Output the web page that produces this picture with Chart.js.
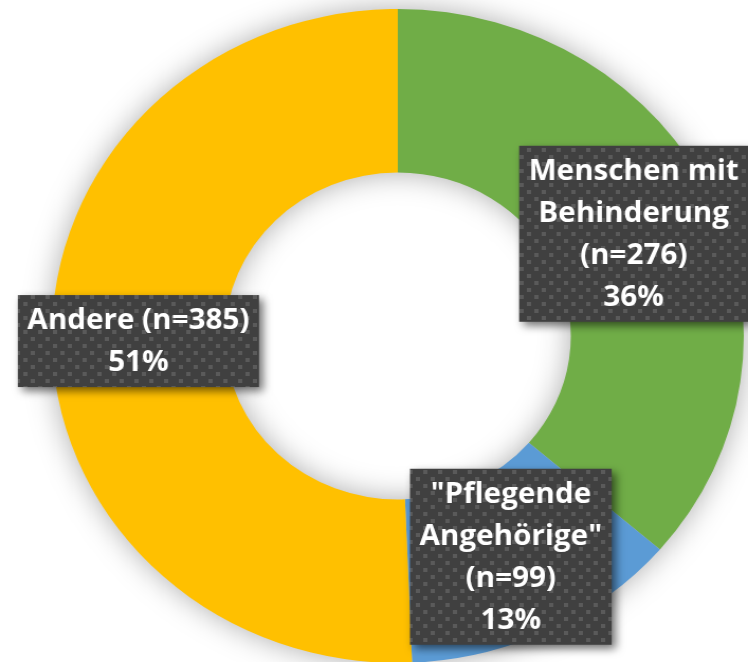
<!DOCTYPE html>
<html>
<head>
<meta charset="utf-8">
<script src="https://cdn.jsdelivr.net/npm/chart.js@4/dist/chart.umd.min.js"></script>
<style>
  html, body { margin: 0; padding: 0; background: #ffffff; overflow: hidden; }
  #wrap { width: 748px; height: 662px; overflow: hidden; position: relative; }
  #stretch { position: absolute; left: 0; top: 0; width: 707px; height: 662px; transform: scale(1.058, 1); transform-origin: 0 0; }
  canvas { display: block; }
</style>
</head>
<body>
<div id="wrap"><div id="stretch"><canvas id="c" width="707" height="662" style="width:707px;height:662px"></canvas></div></div>
<script>
// ---- data ----
const categories = ['Menschen mit Behinderung', '"Pflegende Angehörige"', 'Andere'];
const counts = [276, 99, 385];
const percentLabels = ['36%', '13%', '51%'];
const labelLines = [
  ['Menschen mit', 'Behinderung', '(n=276)', '36%'],
  ['"Pflegende', 'Angehörige"', '(n=99)', '13%'],
  ['Andere (n=385)', '51%']
];
const colors = ['#70AD47', '#5B9BD5', '#FFC000'];

// pattern for label boxes
function makePattern(ctx) {
  const p = document.createElement('canvas');
  p.width = 14; p.height = 14;
  const pc = p.getContext('2d');
  pc.fillStyle = '#404040';
  pc.fillRect(0, 0, 14, 14);
  pc.fillStyle = '#5a5a5a';
  pc.fillRect(1, 1, 4, 4);
  pc.fillRect(8, 8, 4, 4);
  return ctx.createPattern(p, 'repeat');
}

const ringShadow = {
  id: 'ringShadow',
  beforeDatasetsDraw(chart) {
    const meta = chart.getDatasetMeta(0);
    const a = meta.data[0];
    if (!a) return;
    const ctx = chart.ctx;
    ctx.save();
    ctx.shadowColor = 'rgba(0,0,0,0.35)';
    ctx.shadowBlur = 30;
    ctx.fillStyle = '#c8c8c8';
    ctx.beginPath();
    ctx.arc(a.x, a.y, a.outerRadius - 1, 0, Math.PI * 2, false);
    ctx.arc(a.x, a.y, a.innerRadius + 1, 0, Math.PI * 2, true);
    ctx.closePath();
    ctx.fill();
    ctx.restore();
  }
};

const boxLabels = {
  id: 'boxLabels',
  afterDatasetsDraw(chart) {
    const meta = chart.getDatasetMeta(0);
    const ctx = chart.ctx;
    const pattern = makePattern(ctx);
    const fontSize = 28;
    const lineH = 42;
    const padX = 9;
    ctx.save();
    ctx.font = 'bold ' + fontSize + 'px "Open Sans", sans-serif';
    meta.data.forEach((el, i) => {
      const pos = el.tooltipPosition();
      const lines = labelLines[i];
      let w = 0;
      lines.forEach(l => { w = Math.max(w, ctx.measureText(l).width); });
      const bw = w + padX * 2;
      const bh = lines.length * lineH + 8;
      const bx = pos.x - bw / 2;
      const by = pos.y - bh / 2;
      ctx.save();
      ctx.shadowColor = 'rgba(0,0,0,0.55)';
      ctx.shadowBlur = 8;
      ctx.shadowOffsetX = 4;
      ctx.shadowOffsetY = 4;
      ctx.fillStyle = pattern;
      ctx.fillRect(bx, by, bw, bh);
      ctx.restore();
      ctx.fillStyle = '#ffffff';
      ctx.textAlign = 'center';
      ctx.textBaseline = 'middle';
      lines.forEach((l, j) => {
        ctx.fillText(l, pos.x, by + 4 + lineH * (j + 0.5) + 1);
      });
    });
    ctx.restore();
  }
};

new Chart(document.getElementById('c'), {
  type: 'doughnut',
  data: {
    labels: categories,
    datasets: [{
      data: counts,
      backgroundColor: colors,
      borderWidth: 0,
      radius: 327,
      cutout: '50%'
    }]
  },
  options: {
    responsive: false,
    animation: false,
    events: [],
    layout: { padding: { top: 10, bottom: 0, left: 49, right: 4 } },
    plugins: {
      legend: { display: false },
      tooltip: { enabled: false }
    }
  },
  plugins: [ringShadow, boxLabels]
});
</script>
</body>
</html>
